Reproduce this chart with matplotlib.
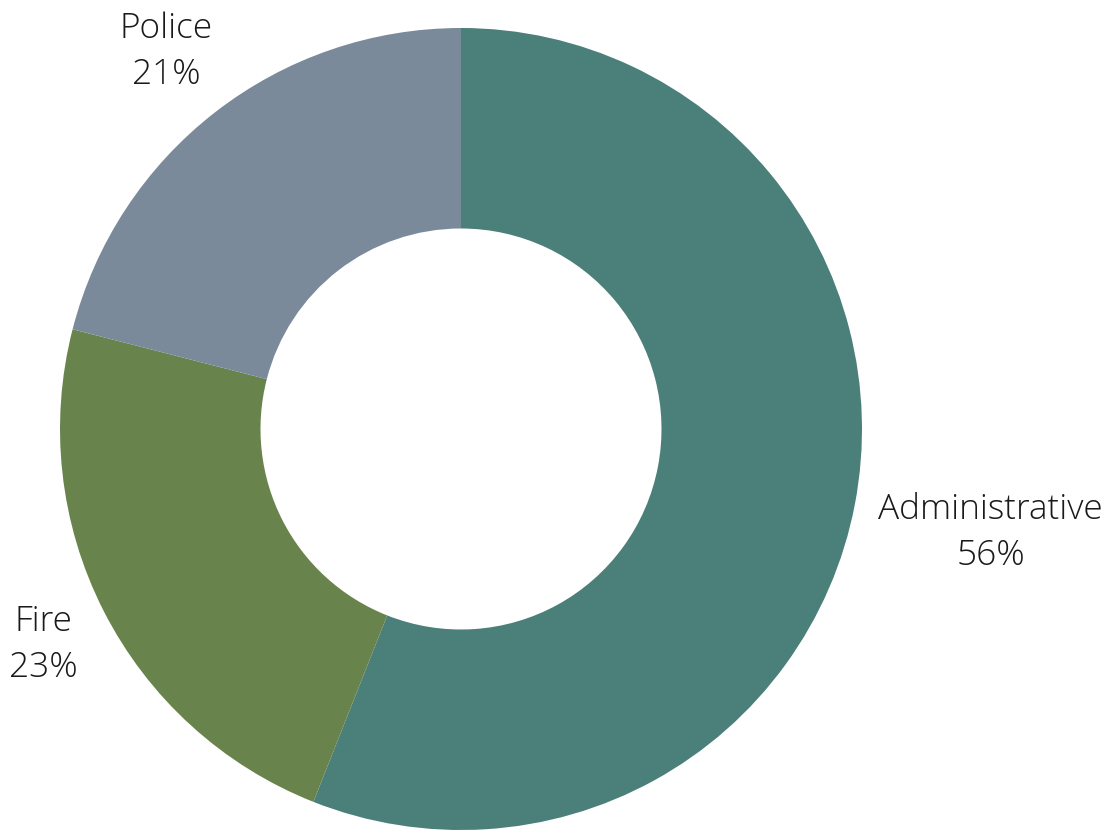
import numpy as np
import matplotlib
matplotlib.use("Agg")
import matplotlib.pyplot as plt

categories = ["Administrative", "Fire", "Police"]
shares = [56, 23, 21]
colors = ["#4b7f7a", "#68844c", "#7a8a9b"]
label_radius = [1.345, 1.17, 1.20]

W, H = 1112, 831
fig = plt.figure(figsize=(W / 100, H / 100), dpi=100)
ax = fig.add_axes([0, 0, 1, 1])

cx, cy, R = 461, H - 429, 401
wedges, _ = ax.pie(shares, colors=colors, startangle=90, counterclock=False,
                   radius=R, center=(cx, cy), frame=True,
                   wedgeprops=dict(width=R * 0.5, linewidth=0))
ax.set_xlim(0, W)
ax.set_ylim(0, H)
ax.set_aspect("equal")
ax.axis("off")

for w, name, val, lr in zip(wedges, categories, shares, label_radius):
    mid = np.deg2rad((w.theta1 + w.theta2) / 2)
    x = cx + R * lr * np.cos(mid)
    y = cy + R * lr * np.sin(mid) - 3
    ax.text(x, y, f"{name}\n{val}%", ha="center", va="center",
            fontsize=25.4, family="Open Sans", fontweight="light",
            color="#1a1a1a", linespacing=1.42)

fig.savefig("out.png", dpi=100)
